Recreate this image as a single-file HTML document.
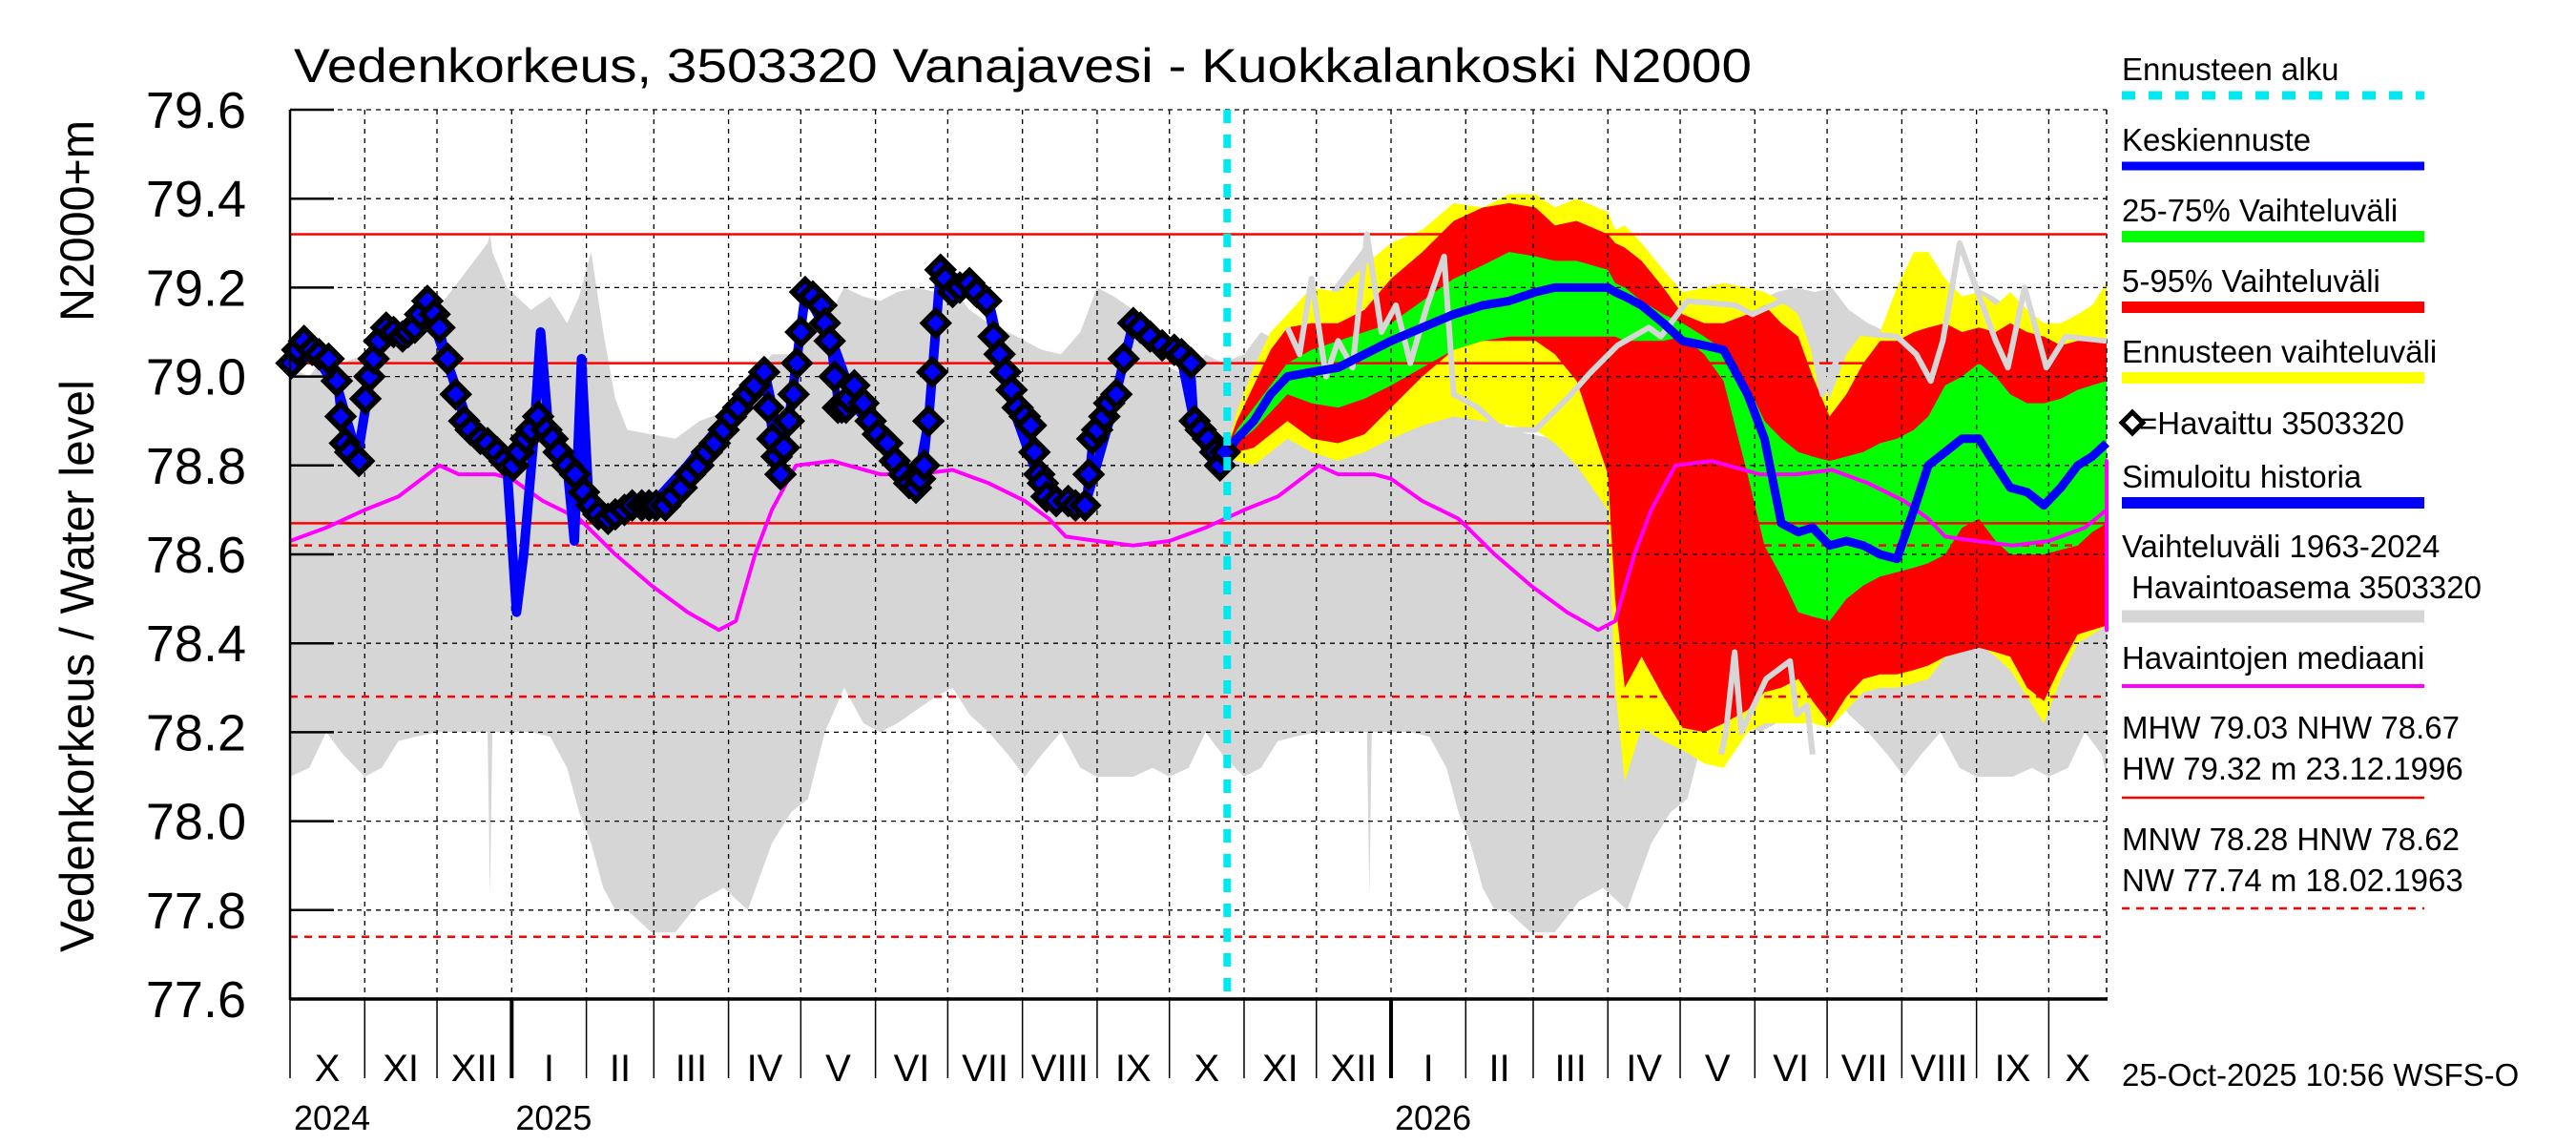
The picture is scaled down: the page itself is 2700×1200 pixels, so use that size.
<!DOCTYPE html>
<html><head><meta charset="utf-8"><style>
html,body{margin:0;padding:0;background:#fff;}
svg{display:block;font-family:"Liberation Sans",Arial,sans-serif;}
</style></head><body>
<svg id="chart" width="2700" height="1200" viewBox="0 0 2700 1200" xmlns="http://www.w3.org/2000/svg">
<g id="layer-clim"></g>
<g id="layer-fc"></g>
<g id="layer-grid"></g>
<g id="layer-ref"></g>
<g id="layer-lines"></g>
<g id="layer-axes"></g>
<text x="308" y="86" font-size="50" textLength="1528" lengthAdjust="spacingAndGlyphs">Vedenkorkeus, 3503320 Vanajavesi - Kuokkalankoski N2000</text>
<text transform="translate(98,998) rotate(-90)" font-size="50" textLength="600" lengthAdjust="spacingAndGlyphs">Vedenkorkeus / Water level</text>
<text transform="translate(98,337) rotate(-90)" font-size="50" textLength="211" lengthAdjust="spacingAndGlyphs">N2000+m</text>
<g id="legend" font-size="33">
 <text x="2224" y="84">Ennusteen alku</text>
 <line x1="2224" y1="100" x2="2541" y2="100" stroke="#00e8f0" stroke-width="9" stroke-dasharray="14,14"/>
 <text x="2224" y="158">Keskiennuste</text>
 <line x1="2224" y1="174" x2="2541" y2="174" stroke="#0000ff" stroke-width="9"/>
 <text x="2224" y="232">25-75% Vaihteluväli</text>
 <line x1="2224" y1="248" x2="2541" y2="248" stroke="#00ff00" stroke-width="12"/>
 <text x="2224" y="306">5-95% Vaihteluväli</text>
 <line x1="2224" y1="322" x2="2541" y2="322" stroke="#ff0000" stroke-width="12"/>
 <text x="2224" y="380">Ennusteen vaihteluväli</text>
 <line x1="2224" y1="396" x2="2541" y2="396" stroke="#ffff00" stroke-width="12"/>
 <path d="M2224,443 l11,-11 l11,11 l-11,11 z" fill="#fff" stroke="#000" stroke-width="5"/>
 <text x="2242" y="455">=Havaittu 3503320</text>
 <text x="2224" y="511">Simuloitu historia</text>
 <line x1="2224" y1="527" x2="2541" y2="527" stroke="#0000ff" stroke-width="12"/>
 <text x="2224" y="584">Vaihteluväli 1963-2024</text>
 <text x="2234" y="627">Havaintoasema 3503320</text>
 <line x1="2224" y1="646" x2="2541" y2="646" stroke="#d6d6d6" stroke-width="13"/>
 <text x="2224" y="701">Havaintojen mediaani</text>
 <line x1="2224" y1="719" x2="2541" y2="719" stroke="#ff00ff" stroke-width="4"/>
 <text x="2224" y="774">MHW  79.03 NHW  78.67</text>
 <text x="2224" y="817">HW  79.32 m 23.12.1996</text>
 <line x1="2224" y1="836" x2="2541" y2="836" stroke="#ff0000" stroke-width="2.5"/>
 <text x="2224" y="891">MNW  78.28 HNW  78.62</text>
 <text x="2224" y="934">NW  77.74 m 18.02.1963</text>
 <line x1="2224" y1="952" x2="2541" y2="952" stroke="#ff0000" stroke-width="2.5" stroke-dasharray="8,7"/>
</g>
<text x="2224" y="1138" font-size="33">25-Oct-2025 10:56 WSFS-O</text>
</svg>
<script>
// ---- data (day index from 1 Oct 2024) ----
const yTicks = [77.6,77.8,78.0,78.2,78.4,78.6,78.8,79.0,79.2,79.4,79.6];
const monthLabels = ["X","XI","XII","I","II","III","IV","V","VI","VII","VIII","IX"];
const refSolid = [79.32, 79.03, 78.67];
const refDashed = [78.62, 78.28, 77.74];
const forecastStartDay = 389;
// climatology (day within season from 1 Oct)
const climDays = [0,8,15,22,31,38,45,52,61,68,75,82,83,84,90,100,108,115,120,125,130,135,140,150,160,170,180,190,200,208,215,222,230,238,245,252,260,268,275,282,290,298,305,312,320,328,335,342,350,358,365];
const climUpper = [79.02,79.0,79.05,79.03,79.05,79.1,79.08,79.12,79.15,79.2,79.25,79.3,79.32,79.28,79.2,79.15,79.18,79.12,79.18,79.28,79.1,78.95,78.88,78.87,78.86,78.9,78.92,78.98,79.05,79.05,79.08,79.12,79.2,79.18,79.17,79.19,79.2,79.19,79.2,79.15,79.12,79.1,79.08,79.06,79.05,79.1,79.2,79.18,79.15,79.1,79.08];
const climLower = [78.1,78.12,78.2,78.15,78.1,78.12,78.18,78.19,78.2,78.2,78.2,78.2,77.83,78.2,78.2,78.2,78.19,78.12,78.02,77.95,77.85,77.8,77.8,77.75,77.75,77.82,77.85,77.8,77.95,78.02,78.05,78.2,78.3,78.22,78.2,78.22,78.25,78.28,78.3,78.24,78.2,78.15,78.1,78.15,78.2,78.12,78.1,78.1,78.1,78.12,78.1];
const medDays = [0,15,31,45,62,70,85,92,105,120,135,150,165,178,185,193,200,210,225,245,260,275,290,305,315,322,335,350,365];
const medVals = [78.63,78.66,78.7,78.73,78.8,78.78,78.78,78.77,78.72,78.68,78.6,78.53,78.47,78.43,78.45,78.6,78.7,78.8,78.81,78.78,78.78,78.79,78.76,78.72,78.68,78.64,78.63,78.62,78.63];
// observations
const obsDays = [0.6,3,5.8,9.2,12,16,19.4,21,22.8,25,28.6,31.3,33,34.7,37,39.9,43,46.7,49,51.8,54,57,60,62,65.4,68.8,72.3,75,79,82,85.9,89,92.7,95,97.8,100,103,106.4,109,111.5,115,118.3,122,125.1,128,132,135,138.8,142,146,149,152,155.8,159,162.6,166,169.5,173,176.3,180,183.1,186,190,193,196.8,198.5,200.2,202,203.6,205,207,209,210.4,212,213.8,217,220.6,222,224,226,227.4,229,230.8,232,234.2,238,241,244,247.9,251,254.7,257,259.8,261.5,263.2,265,266.6,268,270,272,275,278,282,285,289,292,294.5,297,299.5,302,305,307.5,309,311,312.5,314,318,323,326,330,331.5,333,335,338,340,343,346,350,353,357,362,367,370,374,375.5,378,381,384,386,388];
const obsVals = [79.03,79.06,79.08,79.06,79.05,79.04,78.99,78.91,78.85,78.83,78.81,78.95,79.0,79.04,79.08,79.11,79.1,79.09,79.1,79.11,79.14,79.17,79.14,79.11,79.04,78.96,78.9,78.88,78.86,78.85,78.83,78.81,78.8,78.83,78.86,78.88,78.91,78.88,78.86,78.83,78.8,78.78,78.74,78.71,78.69,78.68,78.69,78.7,78.71,78.71,78.71,78.71,78.71,78.73,78.75,78.78,78.8,78.83,78.85,78.88,78.91,78.93,78.96,78.98,79.01,78.93,78.86,78.82,78.78,78.84,78.9,78.96,79.03,79.1,79.19,79.18,79.16,79.12,79.08,79.0,78.93,78.93,78.93,78.95,78.98,78.94,78.9,78.87,78.85,78.81,78.78,78.76,78.75,78.77,78.8,78.9,79.01,79.12,79.24,79.22,79.19,79.2,79.21,79.19,79.17,79.09,79.05,79.01,78.97,78.93,78.91,78.89,78.83,78.78,78.76,78.73,78.72,78.72,78.71,78.71,78.78,78.86,78.88,78.91,78.94,78.96,79.04,79.12,79.11,79.09,79.07,79.06,79.05,79.03,78.9,78.88,78.86,78.83,78.8,78.83];
const simDays = [0,10,20,28,35,45,57,66,75,86,90,94,97,101,104,107,111,115,118,121,124,127,132,140,150,165,180,197,203,207,214,225,235,248,260,265,270,280,290,300,310,320,330,340,350,360,370,376,384,389];
const simVals = [79.03,79.05,78.97,78.82,79.05,79.1,79.16,79.02,78.88,78.82,78.8,78.47,78.6,78.85,79.1,78.9,78.84,78.8,78.63,79.04,78.72,78.71,78.68,78.7,78.71,78.8,78.9,79.01,78.86,78.9,79.19,79.08,78.93,78.85,78.75,78.9,79.24,79.21,79.17,78.93,78.78,78.72,78.71,78.9,79.12,79.08,79.04,78.88,78.8,78.82];
// forecast
const fcDays = [389,393,400,407,414,424,435,446,457,470,483,495,506,517,525,534,547,550,554,561,570,578,587,595,605,612,619,626,632,639,646,653,660,667,674,680,687,694,701,708,714,721,728,735,742,748,754];
const fcYellowTop = [78.84,78.92,79.02,79.1,79.14,79.2,79.19,79.25,79.3,79.33,79.39,79.38,79.41,79.41,79.38,79.4,79.37,79.33,79.34,79.3,79.24,79.19,79.2,79.21,79.2,79.19,79.17,79.14,79.05,78.95,79.05,79.1,79.1,79.2,79.28,79.28,79.22,79.18,79.19,79.16,79.19,79.15,79.12,79.12,79.14,79.16,79.21];
const fcRedTop = [78.84,78.9,78.98,79.06,79.11,79.12,79.12,79.15,79.22,79.28,79.35,79.38,79.39,79.38,79.34,79.35,79.32,79.3,79.29,79.26,79.2,79.14,79.12,79.12,79.14,79.16,79.12,79.09,79.0,78.91,78.96,79.03,79.08,79.08,79.1,79.11,79.12,79.1,79.11,79.1,79.12,79.1,79.09,79.07,79.08,79.08,79.08];
const fcGreenTop = [78.84,78.88,78.93,78.98,79.03,79.06,79.08,79.1,79.12,79.17,79.22,79.25,79.28,79.27,79.26,79.26,79.24,79.21,79.2,79.17,79.14,79.12,79.09,79.06,78.98,78.9,78.86,78.83,78.82,78.81,78.82,78.83,78.85,78.86,78.88,78.91,78.98,79.0,79.03,79.0,78.96,78.94,78.94,78.95,78.97,78.98,78.99];
const fcMedian = [78.83,78.86,78.9,78.96,79.0,79.01,79.02,79.05,79.08,79.11,79.14,79.16,79.17,79.19,79.2,79.2,79.2,79.19,79.18,79.16,79.12,79.08,79.07,79.06,78.96,78.86,78.67,78.65,78.66,78.62,78.63,78.62,78.6,78.59,78.7,78.8,78.83,78.86,78.86,78.8,78.75,78.74,78.71,78.75,78.8,78.82,78.85];
const fcGreenBot = [78.82,78.85,78.88,78.92,78.96,78.94,78.93,78.95,78.98,79.02,79.06,79.08,79.09,79.09,79.09,79.09,79.09,79.09,79.08,79.08,79.08,79.09,79.05,78.99,78.78,78.62,78.55,78.47,78.46,78.45,78.5,78.53,78.55,78.56,78.57,78.58,78.6,78.66,78.68,78.63,78.6,78.6,78.6,78.61,78.62,78.65,78.67];
const fcRedBot = [78.82,78.83,78.84,78.87,78.9,78.86,78.85,78.87,78.93,79.0,79.06,79.08,79.08,79.08,79.05,78.99,78.78,78.5,78.3,78.37,78.28,78.21,78.2,78.22,78.25,78.29,78.3,78.32,78.27,78.22,78.28,78.32,78.33,78.33,78.34,78.35,78.37,78.38,78.39,78.38,78.37,78.3,78.27,78.35,78.42,78.43,78.44];
const fcYellowBot = [78.82,78.81,78.8,78.83,78.86,78.83,78.81,78.83,78.86,78.89,78.91,78.9,78.89,78.88,78.85,78.8,78.7,78.3,78.09,78.21,78.18,78.16,78.13,78.12,78.2,78.22,78.22,78.22,78.22,78.21,78.25,78.29,78.3,78.3,78.31,78.32,78.37,78.38,78.4,78.37,78.34,78.28,78.22,78.32,78.4,78.42,78.44];
const greyTraceDays = [414,419,424,430,435,441,447,453,459,465,472,479,483,493,503,517,530,540,551,564,569,580,600,607,619,629,636,647,667,675,681,686,693,708,713,720,729,737,754];
const greyTraceVals = [79.11,79.05,79.22,79.0,79.08,79.02,79.32,79.1,79.16,79.03,79.16,79.27,78.96,78.93,78.88,78.88,78.95,79.01,79.07,79.11,79.09,79.17,79.16,79.14,79.17,79.16,78.96,79.1,79.09,79.05,78.99,79.08,79.3,79.08,79.02,79.2,79.02,79.09,79.08];
const greyTrace2Days = [594,596,599.6,602.4,606.7,612.7,622.6,625.3,629.7,632];
const greyTrace2Vals = [78.15,78.2,78.38,78.2,78.25,78.32,78.36,78.24,78.26,78.15];

// ---- scales ----
const X0=304, X1=2208, Y0=115, Y1=1047, DMAX=754, VMIN=77.6, VMAX=79.6;
const xs = d => X0 + Math.max(0,Math.min(d,DMAX))*(X1-X0)/DMAX;
const ys = v => Y1 - (v-VMIN)*(Y1-Y0)/(VMAX-VMIN);
const NS="http://www.w3.org/2000/svg";
function mk(tag, parent, attrs){const e=document.createElementNS(NS,tag);for(const k in attrs)e.setAttribute(k,attrs[k]);parent.appendChild(e);return e;}
const pts = (ds,vs)=>ds.map((d,i)=>xs(d).toFixed(1)+","+ys(vs[i]).toFixed(1)).join(" ");
function band(parent, ds, top, bot, color, name){
  const p = pts(ds,top)+" "+pts(ds.slice().reverse(), bot.slice().reverse());
  const e = mk("polygon", parent, {points:p, fill:color});
  
  
}
function line(parent, ds, vs, color, w, name, dash){
  const e = mk("polyline", parent, {points:pts(ds,vs), fill:"none", stroke:color, "stroke-width":w, "stroke-linejoin":"round"});
  if(dash) e.setAttribute("stroke-dasharray", dash);
  
  
}
const gC=document.getElementById("layer-clim"), gF=document.getElementById("layer-fc"),
 gG=document.getElementById("layer-grid"), gR=document.getElementById("layer-ref"),
 gL=document.getElementById("layer-lines"), gA=document.getElementById("layer-axes");

// climatology three repetitions (clipped)
[0,365,730].forEach((off,k)=>{
  const ds = climDays.map(d=>d+off);
  band(gC, ds, climUpper, climLower, "#d6d6d6", "historical-range-season-"+(k+1));
});
// forecast bands
band(gF, fcDays, fcYellowTop, fcYellowBot, "#ffff00", "forecast-range-band");
band(gF, fcDays, fcRedTop, fcRedBot, "#ff0000", "band-5-95");
band(gF, fcDays, fcGreenTop, fcGreenBot, "#00ff00", "band-25-75");

// grid
const dayOf = (y,m,d)=>Math.round((Date.UTC(y,m,d)-Date.UTC(2024,9,1))/86400000);
const monthStarts=[]; for(let i=0;i<25;i++){const y=2024+Math.floor((9+i)/12), m=(9+i)%12; monthStarts.push({d:dayOf(y,m,1), m, y});}
monthStarts.forEach(ms=>{ if(ms.d>0 && ms.d<DMAX){
  const e=mk("line",gG,{x1:xs(ms.d),y1:Y0,x2:xs(ms.d),y2:Y1,stroke:"#000","stroke-width":1.3,"stroke-dasharray":"5,5"});
   }});
yTicks.forEach(v=>{ if(v>VMIN){
  const e=mk("line",gG,{x1:X0,y1:ys(v),x2:X1,y2:ys(v),stroke:"#000","stroke-width":1.3,"stroke-dasharray":"5,5"});
   }});
{const e=mk("line",gG,{x1:X1,y1:Y0,x2:X1,y2:Y1,stroke:"#000","stroke-width":1.5,"stroke-dasharray":"5,5"});
  }

// reference lines
refSolid.forEach(v=>{const e=mk("line",gR,{x1:X0,y1:ys(v),x2:X1,y2:ys(v),stroke:"#ff0000","stroke-width":2.5});
  });
refDashed.forEach(v=>{const e=mk("line",gR,{x1:X0,y1:ys(v),x2:X1,y2:ys(v),stroke:"#ff0000","stroke-width":2.5,"stroke-dasharray":"8,7"});
  });

// lines
[0,365,730].forEach((off,k)=>{ const ds=medDays.map(d=>d+off);
  line(gL, ds, medVals, "#ff00ff", 4, "observed-median-"+(k+1)); });
line(gL, greyTraceDays, greyTraceVals, "#d6d6d6", 6, "history-trace");
line(gL, greyTrace2Days, greyTrace2Vals, "#d6d6d6", 6, "history-trace-low");
line(gL, simDays, simVals, "#0000ff", 10, "simulated-history");
line(gL, fcDays, fcMedian, "#0000ff", 9, "median-forecast");
line(gL, obsDays, obsVals, "#0000ff", 8, "observed-line");
obsDays.forEach((d,i)=>{
  const x=xs(d), y=ys(obsVals[i]);
  const e=mk("path",gL,{d:`M${x-13},${y} L${x},${y-13} L${x+13},${y} L${x},${y+13} Z`,fill:"#0000ff",stroke:"#000","stroke-width":6});
  
  
});
{const e=mk("line",gL,{x1:xs(forecastStartDay),y1:Y0,x2:xs(forecastStartDay),y2:Y1,stroke:"#00e8f0","stroke-width":8,"stroke-dasharray":"14,12"});
  }

// axes
{const e=mk("line",gA,{x1:X0,y1:Y0,x2:X0,y2:Y1+1,stroke:"#000","stroke-width":2.5});  }
{const e=mk("line",gA,{x1:X0,y1:Y1,x2:X1+1,y2:Y1,stroke:"#000","stroke-width":3.5});  }
yTicks.forEach(v=>{
  const t=mk("line",gA,{x1:X0,y1:ys(v),x2:X0+46,y2:ys(v),stroke:"#000","stroke-width":2.5});
   
  const l=mk("text",gA,{x:258,y:ys(v)+19,"font-size":54,"text-anchor":"end"}); l.textContent=v.toFixed(1);
   
});
monthStarts.forEach((ms,i)=>{
  if(ms.d>DMAX) return;
  const isJan = ms.m===0;
  const t=mk("line",gA,{x1:xs(ms.d),y1:Y1,x2:xs(ms.d),y2:1130,stroke:"#000","stroke-width":isJan?4:1.5});
   
  const next = i+1<monthStarts.length ? Math.min(monthStarts[i+1].d, DMAX) : DMAX;
  if(next-ms.d>5){
    const lab=mk("text",gA,{x:(xs(ms.d)+xs(next))/2,y:1133,"font-size":40,"text-anchor":"middle"});
    lab.textContent=monthLabels[(ms.m+3)%12];
     
  }
  if(i===0||isJan){
    const yl=mk("text",gA,{x:xs(ms.d)+4,y:1184,"font-size":36}); yl.textContent=String(ms.y);
     
  }
});
</script>
</body></html>
